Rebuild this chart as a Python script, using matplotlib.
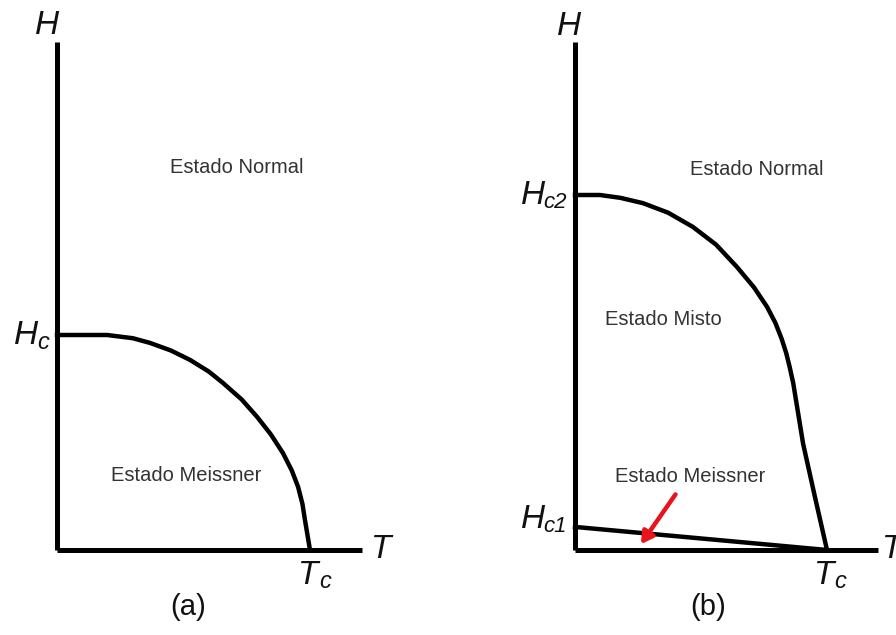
import matplotlib.pyplot as plt

plt.rcParams['font.family'] = ['Liberation Sans', 'DejaVu Sans']

# panel (a): H_c(T), T in units of Tc, H in units of Hc
t_a = [0.0, 0.198, 0.30, 0.368, 0.45, 0.526, 0.60, 0.656, 0.73, 0.791, 0.845, 0.893, 0.928, 0.953, 0.970, 0.980, 1.0]
h_a = [1.0, 1.0, 0.985, 0.963, 0.928, 0.884, 0.830, 0.777, 0.700, 0.619, 0.538, 0.451, 0.370, 0.293, 0.215, 0.140, 0.0]

# panel (b): H_c2(T) and H_c1(T), H in units of Hc2
t_b = [0.0, 0.099, 0.18, 0.270, 0.37, 0.468, 0.56, 0.643, 0.71, 0.762, 0.795, 0.820, 0.838, 0.852, 0.866, 0.905, 0.952, 1.0]
h_b = [1.0, 1.0, 0.992, 0.977, 0.950, 0.910, 0.860, 0.797, 0.740, 0.685, 0.640, 0.595, 0.555, 0.515, 0.470, 0.300, 0.150, 0.0]
t_b1 = [0.0, 1.0]
h_b1 = [0.065, 0.0]

fig = plt.figure(figsize=(8.96, 6.35), dpi=100)
W, H = 896, 635


def make_axes(x0, y0, x1, y1, xmax, ymax):
    ax = fig.add_axes([x0 / W, 1 - y0 / H, (x1 - x0) / W, (y0 - y1) / H])
    ax.set_xlim(0, xmax)
    ax.set_ylim(0, ymax)
    for s in ['top', 'right']:
        ax.spines[s].set_visible(False)
    for s in ['left', 'bottom']:
        ax.spines[s].set_linewidth(3.6)
        ax.spines[s].set_capstyle('butt')
    ax.set_xticks([])
    ax.set_yticks([])
    ax.patch.set_alpha(0)
    return ax


lab = dict(style='italic', color='#111111', clip_on=False)
txt = dict(fontsize=14.5, color='#333333', ha='center', va='center')

# ---- (a)
ax1 = make_axes(57, 550, 362, 42, 305 / 253, 508 / 215)
ax1.plot(t_a, h_a, color='black', lw=3.2, solid_joinstyle='round', clip_on=False)
ax1.text(-0.04, 2.44, 'H', fontsize=24, ha='center', va='center', **lab)
ax1.text(-0.075, 1.0, 'H', fontsize=24, ha='right', va='center', **lab)
ax1.text(-0.08, 0.965, 'c', fontsize=17, ha='left', va='center', **lab)
ax1.text(1.24, 0.0, 'T', fontsize=24, ha='left', va='center', **lab)
ax1.text(1.035, -0.12, 'T', fontsize=24, ha='right', va='center', **lab)
ax1.text(1.035, -0.145, 'c', fontsize=17, ha='left', va='center', **lab)
ax1.text(0.52, -0.265, '(a)', fontsize=21, ha='center', va='center', color='#111111', clip_on=False)
ax1.text(0.71, 1.78, 'Estado Normal', **txt)
ax1.text(0.51, 0.345, 'Estado Meissner', **txt)

# ---- (b)
ax2 = make_axes(575, 550, 878, 42, 303 / 252, 508 / 355)
ax2.plot(t_b, h_b, color='black', lw=3.2, solid_joinstyle='round', clip_on=False)
ax2.plot(t_b1, h_b1, color='black', lw=3.2, clip_on=False)
ax2.text(-0.025, 1.475, 'H', fontsize=24, ha='center', va='center', **lab)
ax2.text(-0.12, 1.0, 'H', fontsize=24, ha='right', va='center', **lab)
ax2.text(-0.125, 0.98, 'c2', fontsize=16, ha='left', va='center', **lab)
ax2.text(-0.12, 0.085, 'H', fontsize=24, ha='right', va='center', **lab)
ax2.text(-0.125, 0.065, 'c1', fontsize=16, ha='left', va='center', **lab)
ax2.text(1.22, 0.0, 'T', fontsize=24, ha='left', va='center', **lab)
ax2.text(1.03, -0.072, 'T', fontsize=24, ha='right', va='center', **lab)
ax2.text(1.03, -0.09, 'c', fontsize=17, ha='left', va='center', **lab)
ax2.text(0.53, -0.16, '(b)', fontsize=21, ha='center', va='center', color='#111111', clip_on=False)
ax2.text(0.72, 1.072, 'Estado Normal', **txt)
ax2.text(0.35, 0.648, 'Estado Misto', **txt)
ax2.text(0.456, 0.208, 'Estado Meissner', **txt)
ax2.annotate('', xy=(0.255, 0.01), xytext=(0.405, 0.163),
             arrowprops=dict(arrowstyle='-|>,head_length=0.7,head_width=0.4',
                             color='#e8141c', lw=3.2))

fig.savefig('out.png', dpi=100)
